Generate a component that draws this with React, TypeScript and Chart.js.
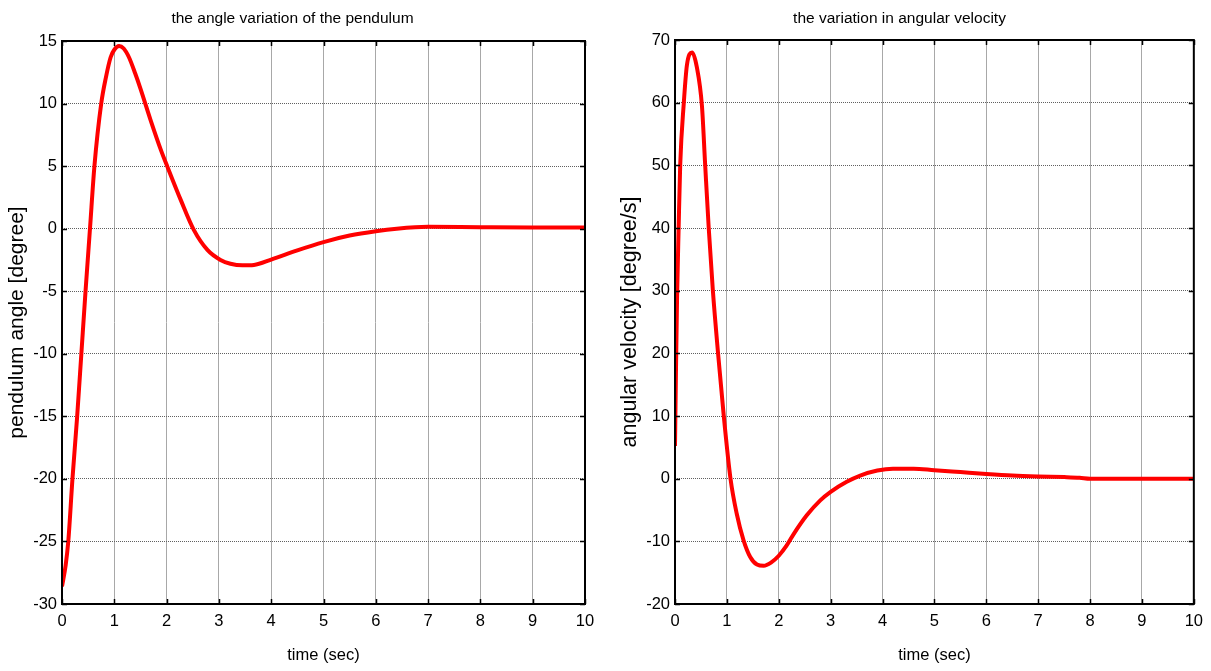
import React, { useEffect, useRef } from "react";
import { Chart, registerables } from "chart.js";

Chart.register(...registerables);

// ---------- data ----------
const angleTime = [0, 0.07, 0.12, 0.2, 0.29, 0.37, 0.45, 0.535, 0.62, 0.75, 0.84, 0.93, 1.0, 1.09, 1.18, 1.28, 1.4, 1.5, 1.7, 1.89, 2.02, 2.27, 2.52, 2.78, 3.03, 3.22, 3.45, 3.67, 4.0, 4.5, 5.0, 5.5, 6.0, 6.4, 7.0, 8.0, 9.0, 10.0];
const angleValues = [-28.6, -26.9, -25, -20, -15, -10, -5, 0, 5, 10, 12.1, 13.7, 14.3, 14.6, 14.4, 13.7, 12.4, 11.2, 8.6, 6.3, 4.9, 2.3, -0.1, -1.7, -2.5, -2.8, -2.93, -2.9, -2.47, -1.73, -1.07, -0.55, -0.2, 0, 0.15, 0.12, 0.1, 0.1];

const velTime = [0, 0.02, 0.04, 0.07, 0.1, 0.17, 0.23, 0.33, 0.42, 0.52, 0.58, 0.65, 0.73, 0.83, 0.94, 1.07, 1.19, 1.32, 1.45, 1.58, 1.71, 1.85, 2.0, 2.15, 2.29, 2.54, 2.8, 3.0, 3.31, 3.57, 3.9, 4.2, 4.6, 5.0, 5.5, 6.0, 6.5, 7.0, 7.5, 7.8, 8.0, 9.0, 10.0];
const velValues = [5.2, 18, 29, 40, 50, 60, 66, 68, 65.7, 59.4, 50.3, 40, 30, 20, 10, 0, -5.6, -9.8, -12.5, -13.7, -13.9, -13.4, -12.3, -10.7, -8.8, -5.85, -3.46, -2.1, -0.5, 0.5, 1.3, 1.6, 1.6, 1.35, 1.05, 0.75, 0.5, 0.35, 0.25, 0.15, 0, 0, 0];

const xTicks = [0, 1, 2, 3, 4, 5, 6, 7, 8, 9, 10];
const angleTicks = [-30, -25, -20, -15, -10, -5, 0, 5, 10, 15];
const velTicks = [-20, -10, 0, 10, 20, 30, 40, 50, 60, 70];

const FONT = "'Liberation Sans', Arial, Helvetica, sans-serif";

const boxPlugin = {
  id: "matlabBox",
  afterDatasetsDraw(chart: any) {
    const { ctx, chartArea: a, scales } = chart;
    ctx.save();
    ctx.strokeStyle = "#000";
    ctx.lineWidth = 1.5;
    const tl = 5;
    ctx.beginPath();
    scales.x.ticks.forEach((t: any) => {
      const px = Math.round(scales.x.getPixelForValue(t.value)) + 0.5;
      ctx.moveTo(px, a.bottom);
      ctx.lineTo(px, a.bottom - tl);
      ctx.moveTo(px, a.top);
      ctx.lineTo(px, a.top + tl);
    });
    scales.y.ticks.forEach((t: any) => {
      const py = Math.round(scales.y.getPixelForValue(t.value)) + 0.5;
      ctx.moveTo(a.left, py);
      ctx.lineTo(a.left + tl, py);
      ctx.moveTo(a.right, py);
      ctx.lineTo(a.right - tl, py);
    });
    ctx.stroke();
    ctx.lineWidth = 2;
    ctx.strokeRect(a.left, a.top, a.right - a.left, a.bottom - a.top);
    ctx.restore();
  },
};

type Cfg = {
  title: string;
  yTitle: string;
  t: number[];
  v: number[];
  yTicks: number[];
  yWidth: number;
  yTitlePad: number;
  yTitleSize: number;
  rightPad: number;
  titleBottomPad: number;
};

function Panel({ cfg, left, width }: { cfg: Cfg; left: number; width: number }) {
  const ref = useRef<HTMLCanvasElement>(null);
  useEffect(() => {
    const canvas = ref.current!;
    const data = cfg.t.map((x, i) => ({ x, y: cfg.v[i] }));
    const yMin = cfg.yTicks[0];
    const yMax = cfg.yTicks[cfg.yTicks.length - 1];
    const chart = new Chart(canvas, {
      type: "line",
      data: {
        datasets: [
          {
            data,
            borderColor: "#ff0000",
            borderWidth: 4,
            pointRadius: 0,
            cubicInterpolationMode: "monotone",
            fill: false,
          },
        ],
      },
      options: {
        animation: false,
        responsive: false,
        devicePixelRatio: 1,
        layout: { padding: { left: 0, right: cfg.rightPad, top: 0, bottom: 0 } },
        plugins: {
          legend: { display: false },
          tooltip: { enabled: false },
          title: {
            display: true,
            text: cfg.title,
            color: "#000",
            font: { family: FONT, size: 15.5, weight: "normal" },
            padding: { top: 9, bottom: cfg.titleBottomPad },
          },
        },
        scales: {
          x: {
            type: "linear",
            min: 0,
            max: 10,
            afterBuildTicks: (s: any) => {
              s.ticks = xTicks.map((value) => ({ value }));
            },
            afterFit: (s: any) => {
              s.height = 67;
            },
            ticks: {
              color: "#000",
              font: { family: FONT, size: 16.5 },
              padding: 8,
              maxRotation: 0,
              autoSkip: false,
            },
            grid: {
              color: "#a8a8a8",
              lineWidth: 1,
              drawTicks: false,
            },
            border: { display: false },
            title: {
              display: true,
              text: "time (sec)",
              color: "#000",
              font: { family: FONT, size: 16.5 },
              padding: { top: 0, bottom: 6 },
            },
          },
          y: {
            type: "linear",
            min: yMin,
            max: yMax,
            afterBuildTicks: (s: any) => {
              s.ticks = cfg.yTicks.map((value) => ({ value }));
            },
            afterFit: (s: any) => {
              s.width = cfg.yWidth;
            },
            ticks: {
              color: "#000",
              font: { family: FONT, size: 16.5 },
              padding: 5,
              autoSkip: false,
            },
            grid: {
              color: "#606060",
              lineWidth: 1,
              drawTicks: false,
            },
            border: { display: false, dash: [1, 1] },
            title: {
              display: true,
              text: cfg.yTitle,
              color: "#000",
              font: { family: FONT, size: cfg.yTitleSize },
              padding: { top: cfg.yTitlePad, bottom: 0 },
            },
          },
        },
      },
      plugins: [boxPlugin],
    } as any);
    return () => chart.destroy();
  }, []);
  return (
    <canvas
      ref={ref}
      width={width}
      height={671}
      style={{ position: "absolute", left, top: 0, width, height: 671 }}
    />
  );
}

const leftCfg: Cfg = {
  title: "the angle variation of the pendulum",
  yTitle: "pendulum angle [degree]",
  t: angleTime,
  v: angleValues,
  yTicks: angleTicks,
  yWidth: 62,
  yTitlePad: 5,
  yTitleSize: 21,
  rightPad: 20,
  titleBottomPad: 13.4,
};

const rightCfg: Cfg = {
  title: "the variation in angular velocity",
  yTitle: "angular velocity [degree/s]",
  t: velTime,
  v: velValues,
  yTicks: velTicks,
  yWidth: 70,
  yTitlePad: 12,
  yTitleSize: 21.5,
  rightPad: 17,
  titleBottomPad: 12.4,
};

export default function App() {
  return (
    <div style={{ position: "fixed", left: 0, top: 0, width: 1211, height: 671, background: "#fff", overflow: "hidden" }}>
      <Panel cfg={leftCfg} left={0} width={605} />
      <Panel cfg={rightCfg} left={605} width={606} />
    </div>
  );
}
